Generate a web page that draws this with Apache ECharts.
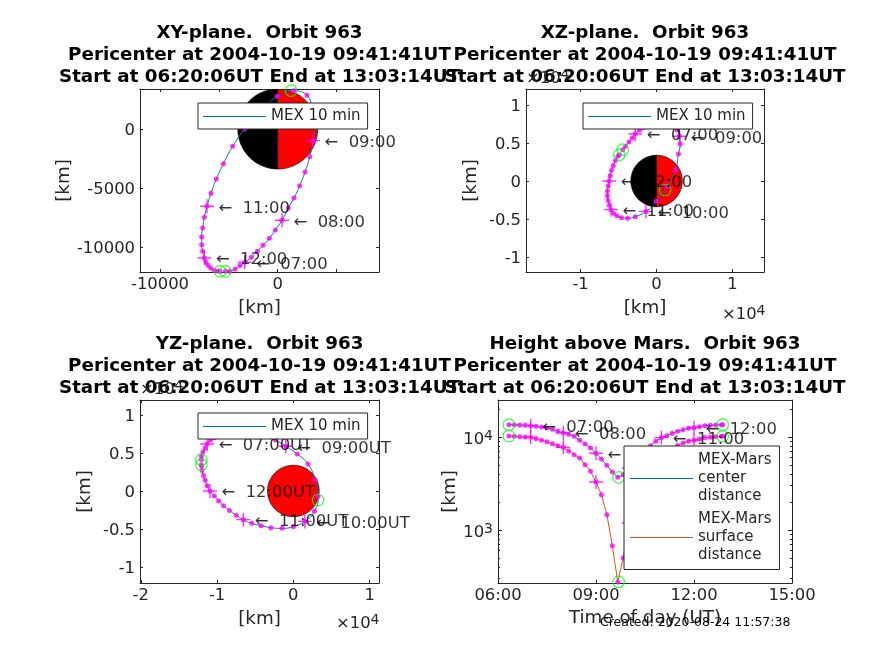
<!DOCTYPE html>
<html><head><meta charset="utf-8">
<style>html,body{margin:0;padding:0;background:#fff}#c{width:874px;height:655px}</style>
<script src="https://cdn.jsdelivr.net/npm/echarts@6/dist/echarts.min.js"></script></head>
<body><div id="c"></div>
<script>
// minutes of day for each 10-min sample (last one is the end of the pass)
const sampleMinutes=[380,390,400,410,420,430,440,450,460,470,480,490,500,510,520,530,540,550,560,570,580,590,600,610,620,630,640,650,660,670,680,690,700,710,720,730,740,750,760,770,773];
const orbitX=[-4446,-4078,-3625,-3200,-2804,-2237,-1728,-1246,-708,-198,368,906,1388,1869,2322,2719,3002,3115,2889,2492,1388,-57,-1388,-2804,-3823,-4616,-5211,-5664,-6004,-6230,-6372,-6457,-6457,-6372,-6230,-6089,-5919,-5692,-5409,-5098,-4899];
const orbitY=[-12054,-12054,-11857,-11574,-11292,-10869,-10360,-9852,-9259,-8554,-7735,-6691,-5844,-4799,-3642,-2343,-988,508,1920,2851,3246,2767,1496,0,-1468,-2936,-4235,-5448,-6549,-7481,-8384,-9147,-9796,-10360,-10925,-11292,-11546,-11772,-11970,-12026,-12054];
const orbitZ=[4120,4560,5130,5660,6180,6670,7000,7350,7600,7800,8000,8150,8200,7950,7300,6700,5880,4866,3545,1491,-700,-2675,-4000,-4690,-4910,-4820,-4560,-4250,-3770,-3200,-2550,-1930,-1300,-650,0,700,1400,2050,2700,3250,3465];
const centerDistance=[13570,13510,13460,13350,13240,13020,12810,12500,12090,11510,11130,10680,10170,9210,8410,7615,6675,5800,4960,4205,3684,3936,4645,5550,6450,7300,8070,8980,9835,10330,10950,11510,11990,12390,12600,12920,13240,13350,13460,13570,13570];
const surfaceDistance=[10250,10170,10080,10000,9918,9596,9210,8910,8470,8070,7740,7070,6460,5945,5040,4273,3282,2398,1462,678,276,500,1190,2160,3060,3910,4680,5590,6445,6940,7560,8120,8600,9000,9210,9530,9850,9960,10070,10180,10180];
// start, pericenter, end
const keyMinutes=[380.1,581.7,772.7];
const keyX=[-4446,1133,-4899];
const keyY=[-12054,3246,-12054];
const keyZ=[4120,-1184,3465];
const keyCenter=[13570,3684,13570];
const keySurface=[10250,276,10180];
const hourMinutes=[420,480,540,600,660,720];
const hourLabels=['07:00','08:00','09:00','10:00','11:00','12:00'];
const marsRadius=3390;
const titleLine2='Pericenter at 2004-10-19 09:41:41UT';
const titleLine3='Start at 06:20:06UT End at 13:03:14UT';
const panelTitles=['XY-plane.  Orbit 963','XZ-plane.  Orbit 963','YZ-plane.  Orbit 963','Height above Mars.  Orbit 963'];
const xyXTicks=[-10000,-5000,0,5000], xyXLabels=[-10000,0];
const xyYTicks=[-10000,-5000,0];
const xzXTicks=[-10000,0,10000];
const xzYTicks=[-10000,-5000,0,5000,10000];
const yzXTicks=[-20000,-10000,0,10000];
const timeTicks=[360,540,720,900];
const logMajor=[1000,10000];
const logMinor=[300,400,500,600,700,800,900,2000,3000,4000,5000,6000,7000,8000,9000,20000];

const FONT='"DejaVu Sans"', INK='#262626', FS=16.4, NS=18.3;
const BLUE='#0072BD', ORANGE='#D95319', MAG='#ff00ff', GREEN='#00ff00';
const CROSS='path://M0 10H20M10 0V20';
const grids=[{left:140,top:89,width:239,height:183},{left:526,top:89,width:238,height:183},{left:140,top:400,width:239,height:183},{left:498,top:400,width:294,height:183}];
const xAxis=[],yAxis=[],series=[];
const line={show:true,onZero:false,lineStyle:{color:INK,width:1}};
const numRich={n:{fontSize:FS,color:INK,fontFamily:FONT,padding:[4,0,0,0]}};
function axes(list,g,type,pos,mirror,o){
  list.push(Object.assign({gridIndex:g,type:type,position:pos,show:true,min:o.min,max:o.max,scale:true,
    axisLine:line,splitLine:{show:false},minorTick:{show:false},
    axisTick:{show:true,inside:true,length:o.len||3,customValues:o.ticks,lineStyle:{color:INK,width:1}},
    axisLabel:mirror?{show:false}:{show:true,customValues:o.labels||o.ticks,formatter:o.fmt||(v=>String(v)),margin:o.margin||5,padding:o.pad||0,color:INK,fontFamily:FONT,fontSize:FS,rich:o.rich},
    name:mirror?'':o.name,nameLocation:'middle',nameGap:o.gap,nameRotate:o.rot,
    nameTextStyle:{color:INK,fontFamily:FONT,fontSize:NS}}));
}
function addAxes(g,xo,yo){
  axes(xAxis,g,xo.type||'value','bottom',false,xo);axes(xAxis,g,xo.type||'value','top',true,xo);
  axes(yAxis,g,yo.type||'value','left',false,yo);axes(yAxis,g,yo.type||'value','right',true,yo);
  return {x:xAxis.length-2,y:yAxis.length-2};
}
const zip=(a,b)=>a.map((v,i)=>[v,b[i]]);
const hourIdx=hourMinutes.map(m=>sampleMinutes.indexOf(m));
function addOrbit(ax,name,color,px,py,kx,ky,labelSuffix,smooth){
  const base={xAxisIndex:ax.x,yAxisIndex:ax.y,animation:false,silent:true,clip:true};
  series.push(Object.assign({},base,{type:'line',name:name,data:zip(px,py),smooth:smooth,showSymbol:false,symbol:'none',lineStyle:{color:color,width:1},itemStyle:{color:color},z:3}));
  series.push(Object.assign({},base,{type:'scatter',data:zip(px,py),symbol:'circle',symbolSize:5,itemStyle:{color:MAG},z:4}));
  series.push(Object.assign({},base,{type:'scatter',data:hourIdx.map(i=>[px[i],py[i]]),symbol:CROSS,symbolSize:14,itemStyle:{color:'rgba(0,0,0,0)',borderColor:MAG,borderWidth:1.4},z:4}));
  series.push(Object.assign({},base,{type:'scatter',data:zip(kx,ky),symbol:'circle',symbolSize:11.5,itemStyle:{color:'rgba(0,0,0,0)',borderColor:GREEN,borderWidth:1.2},z:4}));
  if(labelSuffix!==null){
    series.push(Object.assign({},base,{type:'scatter',clip:false,symbol:'circle',symbolSize:1,itemStyle:{color:'rgba(0,0,0,0)'},z:5,
      data:hourIdx.map((i,k)=>({value:[px[i],py[i]],label:{formatter:'←  '+hourLabels[k]+labelSuffix}})),
      label:{show:true,position:'right',distance:11,offset:[0,2],color:'#000',fontFamily:FONT,fontSize:16.4}}));
  }
}
function addMars(ax,parts){
  series.push({type:'custom',xAxisIndex:ax.x,yAxisIndex:ax.y,coordinateSystem:'cartesian2d',animation:false,silent:true,clip:true,z:2,
    data:parts.map((p,i)=>[i]),
    renderItem:(params,api)=>{
      const p=parts[params.dataIndex],pts=[];
      for(let k=0;k<=90;k++){const a=p.from+(p.to-p.from)*k/90;pts.push(api.coord([marsRadius*Math.sin(a),marsRadius*Math.cos(a)]));}
      return {type:'polygon',shape:{points:pts},style:{fill:p.color,stroke:'#000',lineWidth:0.6}};
    }});
}
const halves=[{from:-Math.PI,to:0,color:'#000'},{from:0,to:Math.PI,color:'#f00'}];
const whole=[{from:0,to:2*Math.PI,color:'#f00'}];
const div=v=>String(v/10000);
const yNum=v=>'{n|'+v+'}';
const yDiv=v=>'{n|'+(v/10000)+'}';

// XY
let ax=addAxes(0,{min:-11700,max:8606,ticks:xyXTicks,labels:xyXLabels,name:'[km]',gap:27},{min:-12115,max:3390,ticks:xyYTicks,fmt:yNum,rich:numRich,name:'[km]',gap:59,rot:90});
addMars(ax,halves);
addOrbit(ax,'MEX 10 min',BLUE,orbitX,orbitY,keyX,keyY,'',true);
// XZ
ax=addAxes(1,{min:-17180,max:14140,ticks:xzXTicks,fmt:div,name:'[km]',gap:27},{min:-11970,max:12100,ticks:xzYTicks,fmt:yDiv,rich:numRich,name:'[km]',gap:46,rot:90});
addMars(ax,halves);
addOrbit(ax,'MEX 10 min',BLUE,orbitX,orbitZ,keyX,keyZ,'',true);
// YZ
ax=addAxes(2,{min:-20100,max:11230,ticks:yzXTicks,fmt:div,name:'[km]',gap:27},{min:-12100,max:11970,ticks:xzYTicks,fmt:yDiv,rich:numRich,name:'[km]',gap:46,rot:90});
addMars(ax,whole);
addOrbit(ax,'MEX 10 min',BLUE,orbitY,orbitZ,keyY,keyZ,'UT',true);
// Height
const fmtTime=v=>String(Math.floor(v/60)).padStart(2,'0')+':'+String(v%60).padStart(2,'0');
const rich={e:{fontSize:14,verticalAlign:'bottom',padding:[0,0,7,0],color:INK,fontFamily:FONT},b:{fontSize:FS,color:INK,fontFamily:FONT}};
ax=addAxes(3,{min:360,max:900,ticks:timeTicks,fmt:fmtTime,name:'Time of day (UT)',gap:26},
  {type:'log',min:269,max:25000,ticks:logMajor,len:4,pad:[6,0,0,0],fmt:v=>'{b|10}{e|'+Math.round(Math.log10(v))+'}',rich:rich,name:'[km]',gap:37,rot:90});
const minorL={gridIndex:3,type:'log',logBase:10,min:269,max:25000,show:true,axisLine:{show:false},splitLine:{show:false},axisLabel:{show:false},axisTick:{show:true,inside:true,length:2,customValues:logMinor,lineStyle:{color:INK,width:1}}};
yAxis.push(Object.assign({},minorL,{position:'left'}),Object.assign({},minorL,{position:'right'}));
addOrbit(ax,'MEX-Mars\ncenter\ndistance',BLUE,sampleMinutes,centerDistance,keyMinutes,keyCenter,'',false);
addOrbit(ax,'MEX-Mars\nsurface\ndistance',ORANGE,sampleMinutes,surfaceDistance,keyMinutes,keySurface,null,false);

const legendBase={orient:'vertical',backgroundColor:'#fff',borderColor:INK,borderWidth:1,borderRadius:0,icon:'rect',itemWidth:63,itemHeight:1,itemGap:5,z:20,selectedMode:false,
  textStyle:{color:INK,fontFamily:FONT,fontSize:15,lineHeight:18},inactiveColor:INK};
const legends=[
 Object.assign({},legendBase,{data:['MEX 10 min'],left:198,top:103,padding:[4.5,7,3.5,5]}),
 Object.assign({},legendBase,{data:['MEX 10 min'],left:583,top:103,padding:[4.5,7,3.5,5]}),
 Object.assign({},legendBase,{data:['MEX 10 min'],left:198,top:413,padding:[4.5,7,3.5,5]}),
 Object.assign({},legendBase,{data:['MEX-Mars\ncenter\ndistance','MEX-Mars\nsurface\ndistance'],left:624,top:446,padding:[5.5,8,5,6]})
];
const titles=[[259.5,22],[645,22],[259.5,333],[645,333]].map((p,i)=>({
  text:panelTitles[i]+'\n'+titleLine2+'\n'+titleLine3,left:p[0],top:p[1],textAlign:'center',
  textStyle:{fontFamily:FONT,fontWeight:'bold',fontSize:18.3,lineHeight:22,color:'#000'},padding:0,z:6}));
const exp=(l,t)=>({type:'text',left:l,top:t,z:7,style:{text:'×10{e|4}',fill:INK,font:FS+'px '+FONT,rich:{e:{fontSize:14,verticalAlign:'bottom',padding:[0,0,7,0],fill:INK,fontFamily:FONT}}}});
const chart=echarts.init(document.getElementById('c'),null,{renderer:'canvas'});
chart.setOption({animation:false,backgroundColor:'#fff',title:titles,grid:grids,xAxis,yAxis,series,legend:legends,
  graphic:[exp(526,68),exp(722,304),exp(140,379),exp(336,613),
   {type:'text',left:600,top:616,z:7,style:{text:'Created: 2020-08-24 11:57:38',fill:'#000',font:'12.5px '+FONT}}]});
</script></body></html>
